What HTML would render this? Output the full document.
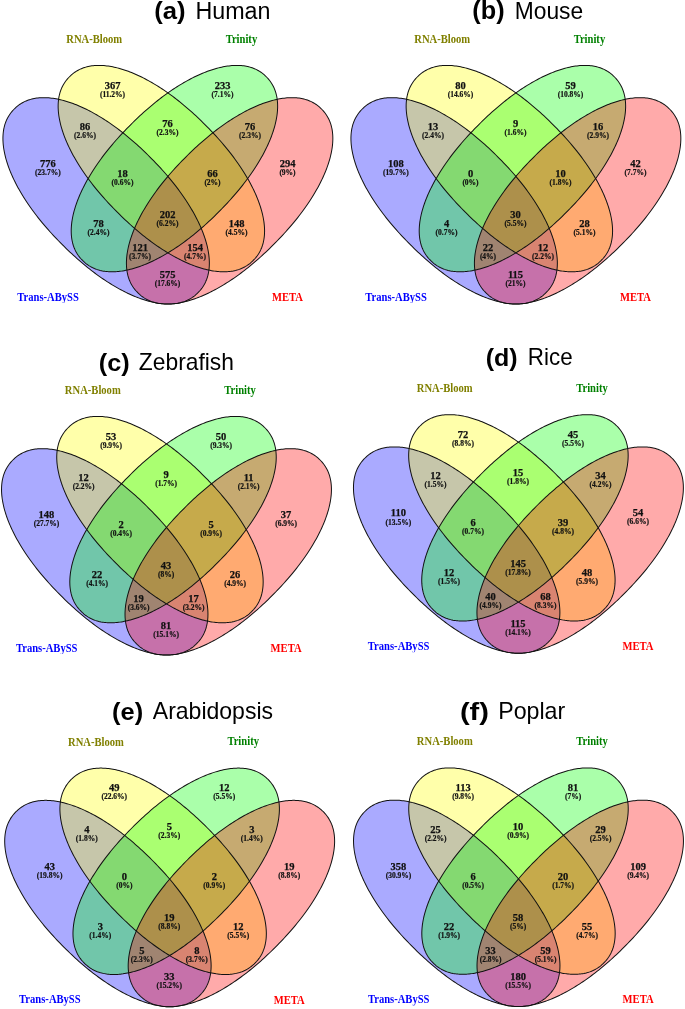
<!DOCTYPE html>
<html><head><meta charset="utf-8"><style>
html,body{margin:0;padding:0;background:#fff;}
svg{display:block}
.c{font-family:"Liberation Serif",serif;font-weight:bold;font-size:10.5px;text-anchor:middle;fill:#111;stroke:#111;stroke-width:0.25px}
.p{font-family:"Liberation Serif",serif;font-weight:bold;font-size:7.5px;text-anchor:middle;fill:#111;stroke:#111;stroke-width:0.2px}
.s{font-family:"Liberation Serif",serif;font-weight:bold;font-size:10.6px;text-anchor:middle}
.t{font-family:"Liberation Sans",sans-serif;font-size:24px;fill:#000}
</style></head><body>
<svg width="685" height="1009" viewBox="0 0 685 1009">
<defs><path id="se" d="M129.90 0.00 L129.88 1.36 L129.82 2.62 L129.73 3.84 L129.60 5.04 L129.43 6.21 L129.22 7.37 L128.98 8.52 L128.70 9.66 L128.39 10.78 L128.03 11.90 L127.64 13.00 L127.22 14.10 L126.75 15.19 L126.26 16.26 L125.72 17.33 L125.15 18.39 L124.54 19.44 L123.89 20.48 L123.21 21.52 L122.50 22.54 L121.75 23.55 L120.96 24.56 L120.14 25.55 L119.28 26.54 L118.39 27.51 L117.47 28.48 L116.51 29.44 L115.51 30.38 L114.49 31.31 L113.43 32.24 L112.33 33.15 L111.21 34.05 L110.05 34.95 L108.85 35.82 L107.63 36.69 L106.37 37.55 L105.09 38.39 L103.77 39.22 L102.42 40.04 L101.04 40.85 L99.63 41.65 L98.19 42.43 L96.72 43.20 L95.22 43.95 L93.70 44.69 L92.14 45.42 L90.56 46.14 L88.95 46.84 L87.31 47.52 L85.64 48.20 L83.95 48.86 L82.23 49.50 L80.49 50.13 L78.72 50.74 L76.92 51.34 L75.10 51.92 L73.26 52.49 L71.39 53.05 L69.50 53.58 L67.59 54.10 L65.65 54.61 L63.69 55.10 L61.71 55.57 L59.71 56.03 L57.68 56.47 L55.64 56.90 L53.57 57.31 L51.48 57.70 L49.38 58.07 L47.25 58.43 L45.11 58.77 L42.94 59.10 L40.76 59.41 L38.56 59.70 L36.33 59.97 L34.09 60.22 L31.83 60.46 L29.56 60.68 L27.26 60.89 L24.94 61.07 L22.61 61.24 L20.25 61.39 L17.87 61.53 L15.46 61.64 L13.02 61.74 L10.56 61.82 L8.05 61.88 L5.50 61.93 L2.86 61.95 L0.00 61.96 L-2.86 61.95 L-5.50 61.93 L-8.05 61.88 L-10.56 61.82 L-13.02 61.74 L-15.46 61.64 L-17.87 61.53 L-20.25 61.39 L-22.61 61.24 L-24.94 61.07 L-27.26 60.89 L-29.56 60.68 L-31.83 60.46 L-34.09 60.22 L-36.33 59.97 L-38.56 59.70 L-40.76 59.41 L-42.94 59.10 L-45.11 58.77 L-47.25 58.43 L-49.38 58.07 L-51.48 57.70 L-53.57 57.31 L-55.64 56.90 L-57.68 56.47 L-59.71 56.03 L-61.71 55.57 L-63.69 55.10 L-65.65 54.61 L-67.59 54.10 L-69.50 53.58 L-71.39 53.05 L-73.26 52.49 L-75.10 51.92 L-76.92 51.34 L-78.72 50.74 L-80.49 50.13 L-82.23 49.50 L-83.95 48.86 L-85.64 48.20 L-87.31 47.52 L-88.95 46.84 L-90.56 46.14 L-92.14 45.42 L-93.70 44.69 L-95.22 43.95 L-96.72 43.20 L-98.19 42.43 L-99.63 41.65 L-101.04 40.85 L-102.42 40.04 L-103.77 39.22 L-105.09 38.39 L-106.37 37.55 L-107.63 36.69 L-108.85 35.82 L-110.05 34.95 L-111.21 34.05 L-112.33 33.15 L-113.43 32.24 L-114.49 31.31 L-115.51 30.38 L-116.51 29.44 L-117.47 28.48 L-118.39 27.51 L-119.28 26.54 L-120.14 25.55 L-120.96 24.56 L-121.75 23.55 L-122.50 22.54 L-123.21 21.52 L-123.89 20.48 L-124.54 19.44 L-125.15 18.39 L-125.72 17.33 L-126.26 16.26 L-126.75 15.19 L-127.22 14.10 L-127.64 13.00 L-128.03 11.90 L-128.39 10.78 L-128.70 9.66 L-128.98 8.52 L-129.22 7.37 L-129.43 6.21 L-129.60 5.04 L-129.73 3.84 L-129.82 2.62 L-129.88 1.36 L-129.90 0.00 L-129.88 -1.36 L-129.82 -2.62 L-129.73 -3.84 L-129.60 -5.04 L-129.43 -6.21 L-129.22 -7.37 L-128.98 -8.52 L-128.70 -9.66 L-128.39 -10.78 L-128.03 -11.90 L-127.64 -13.00 L-127.22 -14.10 L-126.75 -15.19 L-126.26 -16.26 L-125.72 -17.33 L-125.15 -18.39 L-124.54 -19.44 L-123.89 -20.48 L-123.21 -21.52 L-122.50 -22.54 L-121.75 -23.55 L-120.96 -24.56 L-120.14 -25.55 L-119.28 -26.54 L-118.39 -27.51 L-117.47 -28.48 L-116.51 -29.44 L-115.51 -30.38 L-114.49 -31.31 L-113.43 -32.24 L-112.33 -33.15 L-111.21 -34.05 L-110.05 -34.95 L-108.85 -35.82 L-107.63 -36.69 L-106.37 -37.55 L-105.09 -38.39 L-103.77 -39.22 L-102.42 -40.04 L-101.04 -40.85 L-99.63 -41.65 L-98.19 -42.43 L-96.72 -43.20 L-95.22 -43.95 L-93.70 -44.69 L-92.14 -45.42 L-90.56 -46.14 L-88.95 -46.84 L-87.31 -47.52 L-85.64 -48.20 L-83.95 -48.86 L-82.23 -49.50 L-80.49 -50.13 L-78.72 -50.74 L-76.92 -51.34 L-75.10 -51.92 L-73.26 -52.49 L-71.39 -53.05 L-69.50 -53.58 L-67.59 -54.10 L-65.65 -54.61 L-63.69 -55.10 L-61.71 -55.57 L-59.71 -56.03 L-57.68 -56.47 L-55.64 -56.90 L-53.57 -57.31 L-51.48 -57.70 L-49.38 -58.07 L-47.25 -58.43 L-45.11 -58.77 L-42.94 -59.10 L-40.76 -59.41 L-38.56 -59.70 L-36.33 -59.97 L-34.09 -60.22 L-31.83 -60.46 L-29.56 -60.68 L-27.26 -60.89 L-24.94 -61.07 L-22.61 -61.24 L-20.25 -61.39 L-17.87 -61.53 L-15.46 -61.64 L-13.02 -61.74 L-10.56 -61.82 L-8.05 -61.88 L-5.50 -61.93 L-2.86 -61.95 L-0.00 -61.96 L2.86 -61.95 L5.50 -61.93 L8.05 -61.88 L10.56 -61.82 L13.02 -61.74 L15.46 -61.64 L17.87 -61.53 L20.25 -61.39 L22.61 -61.24 L24.94 -61.07 L27.26 -60.89 L29.56 -60.68 L31.83 -60.46 L34.09 -60.22 L36.33 -59.97 L38.56 -59.70 L40.76 -59.41 L42.94 -59.10 L45.11 -58.77 L47.25 -58.43 L49.38 -58.07 L51.48 -57.70 L53.57 -57.31 L55.64 -56.90 L57.68 -56.47 L59.71 -56.03 L61.71 -55.57 L63.69 -55.10 L65.65 -54.61 L67.59 -54.10 L69.50 -53.58 L71.39 -53.05 L73.26 -52.49 L75.10 -51.92 L76.92 -51.34 L78.72 -50.74 L80.49 -50.13 L82.23 -49.50 L83.95 -48.86 L85.64 -48.20 L87.31 -47.52 L88.95 -46.84 L90.56 -46.14 L92.14 -45.42 L93.70 -44.69 L95.22 -43.95 L96.72 -43.20 L98.19 -42.43 L99.63 -41.65 L101.04 -40.85 L102.42 -40.04 L103.77 -39.22 L105.09 -38.39 L106.37 -37.55 L107.63 -36.69 L108.85 -35.82 L110.05 -34.95 L111.21 -34.05 L112.33 -33.15 L113.43 -32.24 L114.49 -31.31 L115.51 -30.38 L116.51 -29.44 L117.47 -28.48 L118.39 -27.51 L119.28 -26.54 L120.14 -25.55 L120.96 -24.56 L121.75 -23.55 L122.50 -22.54 L123.21 -21.52 L123.89 -20.48 L124.54 -19.44 L125.15 -18.39 L125.72 -17.33 L126.26 -16.26 L126.75 -15.19 L127.22 -14.10 L127.64 -13.00 L128.03 -11.90 L128.39 -10.78 L128.70 -9.66 L128.98 -8.52 L129.22 -7.37 L129.43 -6.21 L129.60 -5.04 L129.73 -3.84 L129.82 -2.62 L129.88 -1.36Z"/></defs>
<rect width="685" height="1009" fill="#fff"/>
<g transform="translate(0,0)">
<use href="#se" transform="translate(106.143 200.848) rotate(44.993)" fill="#0000ff" fill-opacity="0.3333"/>
<use href="#se" transform="translate(161.354 168.602) rotate(44.993)" fill="#ffff00" fill-opacity="0.3333"/>
<use href="#se" transform="translate(174.419 168.602) rotate(-44.993)" fill="#00ff00" fill-opacity="0.3333"/>
<use href="#se" transform="translate(229.630 200.848) rotate(-44.993)" fill="#ff0000" fill-opacity="0.3333"/>
<use href="#se" transform="translate(106.143 200.848) rotate(44.993)" fill="none" stroke="#111" stroke-width="1.0"/>
<use href="#se" transform="translate(161.354 168.602) rotate(44.993)" fill="none" stroke="#111" stroke-width="1.0"/>
<use href="#se" transform="translate(174.419 168.602) rotate(-44.993)" fill="none" stroke="#111" stroke-width="1.0"/>
<use href="#se" transform="translate(229.630 200.848) rotate(-44.993)" fill="none" stroke="#111" stroke-width="1.0"/>
<g style="will-change:transform">
<text x="112.5" y="88.5" class="c">367</text>
<text transform="translate(112.50 96.70)" class="p">(11.2%)</text>
<text x="222.5" y="88.5" class="c">233</text>
<text transform="translate(222.50 96.70)" class="p">(7.1%)</text>
<text x="85" y="130.0" class="c">86</text>
<text transform="translate(85.00 138.20)" class="p">(2.6%)</text>
<text x="167.5" y="127.0" class="c">76</text>
<text transform="translate(167.50 135.20)" class="p">(2.3%)</text>
<text x="250" y="130.0" class="c">76</text>
<text transform="translate(250.00 138.20)" class="p">(2.3%)</text>
<text x="47.9" y="167.2" class="c">776</text>
<text transform="translate(47.90 175.40)" class="p">(23.7%)</text>
<text x="122.5" y="177.0" class="c">18</text>
<text transform="translate(122.50 185.20)" class="p">(0.6%)</text>
<text x="212.5" y="177.0" class="c">66</text>
<text transform="translate(212.50 185.20)" class="p">(2%)</text>
<text x="287.5" y="167.0" class="c">294</text>
<text transform="translate(287.50 175.20)" class="p">(9%)</text>
<text x="167.5" y="218.0" class="c">202</text>
<text transform="translate(167.50 226.20)" class="p">(6.2%)</text>
<text x="98.5" y="227.0" class="c">78</text>
<text transform="translate(98.50 235.20)" class="p">(2.4%)</text>
<text x="236.5" y="227.0" class="c">148</text>
<text transform="translate(236.50 235.20)" class="p">(4.5%)</text>
<text x="140" y="251.0" class="c">121</text>
<text transform="translate(140.00 259.20)" class="p">(3.7%)</text>
<text x="195" y="251.0" class="c">154</text>
<text transform="translate(195.00 259.20)" class="p">(4.7%)</text>
<text x="167.5" y="277.5" class="c">575</text>
<text transform="translate(167.50 285.70)" class="p">(17.6%)</text>
<text transform="translate(94.2 42.9) scale(1 1.1)" class="s" fill="#808000">RNA-Bloom</text>
<text transform="translate(241.4 42.7) scale(1 1.1)" class="s" fill="#008000">Trinity</text>
<text transform="translate(48.1 300.5) scale(1 1.1)" class="s" fill="#0000ff">Trans-ABySS</text>
<text transform="translate(287.5 300.8) scale(1 1.1)" class="s" fill="#ff0000">META</text>
</g>
</g>
<text style="will-change:transform" transform="translate(154.23,19.32) scale(1.0704,1.0350)" class="t" font-weight="bold">(a)</text>
<text style="will-change:transform" transform="translate(195.46,18.80) scale(0.9703,0.9750)" class="t" font-weight="normal">Human</text><g transform="translate(348,0)">
<use href="#se" transform="translate(106.143 200.848) rotate(44.993)" fill="#0000ff" fill-opacity="0.3333"/>
<use href="#se" transform="translate(161.354 168.602) rotate(44.993)" fill="#ffff00" fill-opacity="0.3333"/>
<use href="#se" transform="translate(174.419 168.602) rotate(-44.993)" fill="#00ff00" fill-opacity="0.3333"/>
<use href="#se" transform="translate(229.630 200.848) rotate(-44.993)" fill="#ff0000" fill-opacity="0.3333"/>
<use href="#se" transform="translate(106.143 200.848) rotate(44.993)" fill="none" stroke="#111" stroke-width="1.0"/>
<use href="#se" transform="translate(161.354 168.602) rotate(44.993)" fill="none" stroke="#111" stroke-width="1.0"/>
<use href="#se" transform="translate(174.419 168.602) rotate(-44.993)" fill="none" stroke="#111" stroke-width="1.0"/>
<use href="#se" transform="translate(229.630 200.848) rotate(-44.993)" fill="none" stroke="#111" stroke-width="1.0"/>
<g style="will-change:transform">
<text x="112.5" y="88.5" class="c">80</text>
<text transform="translate(112.50 96.70)" class="p">(14.6%)</text>
<text x="222.5" y="88.5" class="c">59</text>
<text transform="translate(222.50 96.70)" class="p">(10.8%)</text>
<text x="85" y="130.0" class="c">13</text>
<text transform="translate(85.00 138.20)" class="p">(2.4%)</text>
<text x="167.5" y="127.0" class="c">9</text>
<text transform="translate(167.50 135.20)" class="p">(1.6%)</text>
<text x="250" y="130.0" class="c">16</text>
<text transform="translate(250.00 138.20)" class="p">(2.9%)</text>
<text x="47.9" y="167.2" class="c">108</text>
<text transform="translate(47.90 175.40)" class="p">(19.7%)</text>
<text x="122.5" y="177.0" class="c">0</text>
<text transform="translate(122.50 185.20)" class="p">(0%)</text>
<text x="212.5" y="177.0" class="c">10</text>
<text transform="translate(212.50 185.20)" class="p">(1.8%)</text>
<text x="287.5" y="167.0" class="c">42</text>
<text transform="translate(287.50 175.20)" class="p">(7.7%)</text>
<text x="167.5" y="218.0" class="c">30</text>
<text transform="translate(167.50 226.20)" class="p">(5.5%)</text>
<text x="98.5" y="227.0" class="c">4</text>
<text transform="translate(98.50 235.20)" class="p">(0.7%)</text>
<text x="236.5" y="227.0" class="c">28</text>
<text transform="translate(236.50 235.20)" class="p">(5.1%)</text>
<text x="140" y="251.0" class="c">22</text>
<text transform="translate(140.00 259.20)" class="p">(4%)</text>
<text x="195" y="251.0" class="c">12</text>
<text transform="translate(195.00 259.20)" class="p">(2.2%)</text>
<text x="167.5" y="277.5" class="c">115</text>
<text transform="translate(167.50 285.70)" class="p">(21%)</text>
<text transform="translate(94.2 42.9) scale(1 1.1)" class="s" fill="#808000">RNA-Bloom</text>
<text transform="translate(241.4 42.7) scale(1 1.1)" class="s" fill="#008000">Trinity</text>
<text transform="translate(48.1 300.5) scale(1 1.1)" class="s" fill="#0000ff">Trans-ABySS</text>
<text transform="translate(287.5 300.8) scale(1 1.1)" class="s" fill="#ff0000">META</text>
</g>
</g>
<text style="will-change:transform" transform="translate(472.35,19.32) scale(1.0517,1.0350)" class="t" font-weight="bold">(b)</text>
<text style="will-change:transform" transform="translate(514.70,18.60) scale(0.9507,0.9750)" class="t" font-weight="normal">Mouse</text><g transform="translate(-1.4,351.0)">
<use href="#se" transform="translate(106.143 200.848) rotate(44.993)" fill="#0000ff" fill-opacity="0.3333"/>
<use href="#se" transform="translate(161.354 168.602) rotate(44.993)" fill="#ffff00" fill-opacity="0.3333"/>
<use href="#se" transform="translate(174.419 168.602) rotate(-44.993)" fill="#00ff00" fill-opacity="0.3333"/>
<use href="#se" transform="translate(229.630 200.848) rotate(-44.993)" fill="#ff0000" fill-opacity="0.3333"/>
<use href="#se" transform="translate(106.143 200.848) rotate(44.993)" fill="none" stroke="#111" stroke-width="1.0"/>
<use href="#se" transform="translate(161.354 168.602) rotate(44.993)" fill="none" stroke="#111" stroke-width="1.0"/>
<use href="#se" transform="translate(174.419 168.602) rotate(-44.993)" fill="none" stroke="#111" stroke-width="1.0"/>
<use href="#se" transform="translate(229.630 200.848) rotate(-44.993)" fill="none" stroke="#111" stroke-width="1.0"/>
<g style="will-change:transform">
<text x="112.5" y="88.5" class="c">53</text>
<text transform="translate(112.50 96.70)" class="p">(9.9%)</text>
<text x="222.5" y="88.5" class="c">50</text>
<text transform="translate(222.50 96.70)" class="p">(9.3%)</text>
<text x="85" y="130.0" class="c">12</text>
<text transform="translate(85.00 138.20)" class="p">(2.2%)</text>
<text x="167.5" y="127.0" class="c">9</text>
<text transform="translate(167.50 135.20)" class="p">(1.7%)</text>
<text x="250" y="130.0" class="c">11</text>
<text transform="translate(250.00 138.20)" class="p">(2.1%)</text>
<text x="47.9" y="167.2" class="c">148</text>
<text transform="translate(47.90 175.40)" class="p">(27.7%)</text>
<text x="122.5" y="177.0" class="c">2</text>
<text transform="translate(122.50 185.20)" class="p">(0.4%)</text>
<text x="212.5" y="177.0" class="c">5</text>
<text transform="translate(212.50 185.20)" class="p">(0.9%)</text>
<text x="287.5" y="167.0" class="c">37</text>
<text transform="translate(287.50 175.20)" class="p">(6.9%)</text>
<text x="167.5" y="218.0" class="c">43</text>
<text transform="translate(167.50 226.20)" class="p">(8%)</text>
<text x="98.5" y="227.0" class="c">22</text>
<text transform="translate(98.50 235.20)" class="p">(4.1%)</text>
<text x="236.5" y="227.0" class="c">26</text>
<text transform="translate(236.50 235.20)" class="p">(4.9%)</text>
<text x="140" y="251.0" class="c">19</text>
<text transform="translate(140.00 259.20)" class="p">(3.6%)</text>
<text x="195" y="251.0" class="c">17</text>
<text transform="translate(195.00 259.20)" class="p">(3.2%)</text>
<text x="167.5" y="277.5" class="c">81</text>
<text transform="translate(167.50 285.70)" class="p">(15.1%)</text>
<text transform="translate(94.2 42.9) scale(1 1.1)" class="s" fill="#808000">RNA-Bloom</text>
<text transform="translate(241.4 42.7) scale(1 1.1)" class="s" fill="#008000">Trinity</text>
<text transform="translate(48.1 300.5) scale(1 1.1)" class="s" fill="#0000ff">Trans-ABySS</text>
<text transform="translate(287.5 300.8) scale(1 1.1)" class="s" fill="#ff0000">META</text>
</g>
</g>
<text style="will-change:transform" transform="translate(98.74,370.62) scale(1.0556,1.0350)" class="t" font-weight="bold">(c)</text>
<text style="will-change:transform" transform="translate(138.85,369.70) scale(0.9510,0.9750)" class="t" font-weight="normal">Zebrafish</text><g transform="translate(350.53,349.23)">
<use href="#se" transform="translate(106.143 200.848) rotate(44.993)" fill="#0000ff" fill-opacity="0.3333"/>
<use href="#se" transform="translate(161.354 168.602) rotate(44.993)" fill="#ffff00" fill-opacity="0.3333"/>
<use href="#se" transform="translate(174.419 168.602) rotate(-44.993)" fill="#00ff00" fill-opacity="0.3333"/>
<use href="#se" transform="translate(229.630 200.848) rotate(-44.993)" fill="#ff0000" fill-opacity="0.3333"/>
<use href="#se" transform="translate(106.143 200.848) rotate(44.993)" fill="none" stroke="#111" stroke-width="1.0"/>
<use href="#se" transform="translate(161.354 168.602) rotate(44.993)" fill="none" stroke="#111" stroke-width="1.0"/>
<use href="#se" transform="translate(174.419 168.602) rotate(-44.993)" fill="none" stroke="#111" stroke-width="1.0"/>
<use href="#se" transform="translate(229.630 200.848) rotate(-44.993)" fill="none" stroke="#111" stroke-width="1.0"/>
<g style="will-change:transform">
<text x="112.5" y="88.5" class="c">72</text>
<text transform="translate(112.50 96.70)" class="p">(8.8%)</text>
<text x="222.5" y="88.5" class="c">45</text>
<text transform="translate(222.50 96.70)" class="p">(5.5%)</text>
<text x="85" y="130.0" class="c">12</text>
<text transform="translate(85.00 138.20)" class="p">(1.5%)</text>
<text x="167.5" y="127.0" class="c">15</text>
<text transform="translate(167.50 135.20)" class="p">(1.8%)</text>
<text x="250" y="130.0" class="c">34</text>
<text transform="translate(250.00 138.20)" class="p">(4.2%)</text>
<text x="47.9" y="167.2" class="c">110</text>
<text transform="translate(47.90 175.40)" class="p">(13.5%)</text>
<text x="122.5" y="177.0" class="c">6</text>
<text transform="translate(122.50 185.20)" class="p">(0.7%)</text>
<text x="212.5" y="177.0" class="c">39</text>
<text transform="translate(212.50 185.20)" class="p">(4.8%)</text>
<text x="287.5" y="167.0" class="c">54</text>
<text transform="translate(287.50 175.20)" class="p">(6.6%)</text>
<text x="167.5" y="218.0" class="c">145</text>
<text transform="translate(167.50 226.20)" class="p">(17.8%)</text>
<text x="98.5" y="227.0" class="c">12</text>
<text transform="translate(98.50 235.20)" class="p">(1.5%)</text>
<text x="236.5" y="227.0" class="c">48</text>
<text transform="translate(236.50 235.20)" class="p">(5.9%)</text>
<text x="140" y="251.0" class="c">40</text>
<text transform="translate(140.00 259.20)" class="p">(4.9%)</text>
<text x="195" y="251.0" class="c">68</text>
<text transform="translate(195.00 259.20)" class="p">(8.3%)</text>
<text x="167.5" y="277.5" class="c">115</text>
<text transform="translate(167.50 285.70)" class="p">(14.1%)</text>
<text transform="translate(94.2 42.9) scale(1 1.1)" class="s" fill="#808000">RNA-Bloom</text>
<text transform="translate(241.4 42.7) scale(1 1.1)" class="s" fill="#008000">Trinity</text>
<text transform="translate(48.1 300.5) scale(1 1.1)" class="s" fill="#0000ff">Trans-ABySS</text>
<text transform="translate(287.5 300.8) scale(1 1.1)" class="s" fill="#ff0000">META</text>
</g>
</g>
<text style="will-change:transform" transform="translate(485.76,365.93) scale(1.0414,1.0350)" class="t" font-weight="bold">(d)</text>
<text style="will-change:transform" transform="translate(527.83,365.00) scale(0.9333,0.9750)" class="t" font-weight="normal">Rice</text><g transform="translate(1.77,702.7)">
<use href="#se" transform="translate(106.143 200.848) rotate(44.993)" fill="#0000ff" fill-opacity="0.3333"/>
<use href="#se" transform="translate(161.354 168.602) rotate(44.993)" fill="#ffff00" fill-opacity="0.3333"/>
<use href="#se" transform="translate(174.419 168.602) rotate(-44.993)" fill="#00ff00" fill-opacity="0.3333"/>
<use href="#se" transform="translate(229.630 200.848) rotate(-44.993)" fill="#ff0000" fill-opacity="0.3333"/>
<use href="#se" transform="translate(106.143 200.848) rotate(44.993)" fill="none" stroke="#111" stroke-width="1.0"/>
<use href="#se" transform="translate(161.354 168.602) rotate(44.993)" fill="none" stroke="#111" stroke-width="1.0"/>
<use href="#se" transform="translate(174.419 168.602) rotate(-44.993)" fill="none" stroke="#111" stroke-width="1.0"/>
<use href="#se" transform="translate(229.630 200.848) rotate(-44.993)" fill="none" stroke="#111" stroke-width="1.0"/>
<g style="will-change:transform">
<text x="112.5" y="88.5" class="c">49</text>
<text transform="translate(112.50 96.70)" class="p">(22.6%)</text>
<text x="222.5" y="88.5" class="c">12</text>
<text transform="translate(222.50 96.70)" class="p">(5.5%)</text>
<text x="85" y="130.0" class="c">4</text>
<text transform="translate(85.00 138.20)" class="p">(1.8%)</text>
<text x="167.5" y="127.0" class="c">5</text>
<text transform="translate(167.50 135.20)" class="p">(2.3%)</text>
<text x="250" y="130.0" class="c">3</text>
<text transform="translate(250.00 138.20)" class="p">(1.4%)</text>
<text x="47.9" y="167.2" class="c">43</text>
<text transform="translate(47.90 175.40)" class="p">(19.8%)</text>
<text x="122.5" y="177.0" class="c">0</text>
<text transform="translate(122.50 185.20)" class="p">(0%)</text>
<text x="212.5" y="177.0" class="c">2</text>
<text transform="translate(212.50 185.20)" class="p">(0.9%)</text>
<text x="287.5" y="167.0" class="c">19</text>
<text transform="translate(287.50 175.20)" class="p">(8.8%)</text>
<text x="167.5" y="218.0" class="c">19</text>
<text transform="translate(167.50 226.20)" class="p">(8.8%)</text>
<text x="98.5" y="227.0" class="c">3</text>
<text transform="translate(98.50 235.20)" class="p">(1.4%)</text>
<text x="236.5" y="227.0" class="c">12</text>
<text transform="translate(236.50 235.20)" class="p">(5.5%)</text>
<text x="140" y="251.0" class="c">5</text>
<text transform="translate(140.00 259.20)" class="p">(2.3%)</text>
<text x="195" y="251.0" class="c">8</text>
<text transform="translate(195.00 259.20)" class="p">(3.7%)</text>
<text x="167.5" y="277.5" class="c">33</text>
<text transform="translate(167.50 285.70)" class="p">(15.2%)</text>
<text transform="translate(94.2 42.9) scale(1 1.1)" class="s" fill="#808000">RNA-Bloom</text>
<text transform="translate(241.4 42.7) scale(1 1.1)" class="s" fill="#008000">Trinity</text>
<text transform="translate(48.1 300.5) scale(1 1.1)" class="s" fill="#0000ff">Trans-ABySS</text>
<text transform="translate(287.5 300.8) scale(1 1.1)" class="s" fill="#ff0000">META</text>
</g>
</g>
<text style="will-change:transform" transform="translate(112.04,719.62) scale(1.0593,1.0350)" class="t" font-weight="bold">(e)</text>
<text style="will-change:transform" transform="translate(152.80,718.80) scale(0.9592,0.9750)" class="t" font-weight="normal">Arabidopsis</text><g transform="translate(350.6,702.5)">
<use href="#se" transform="translate(106.143 200.848) rotate(44.993)" fill="#0000ff" fill-opacity="0.3333"/>
<use href="#se" transform="translate(161.354 168.602) rotate(44.993)" fill="#ffff00" fill-opacity="0.3333"/>
<use href="#se" transform="translate(174.419 168.602) rotate(-44.993)" fill="#00ff00" fill-opacity="0.3333"/>
<use href="#se" transform="translate(229.630 200.848) rotate(-44.993)" fill="#ff0000" fill-opacity="0.3333"/>
<use href="#se" transform="translate(106.143 200.848) rotate(44.993)" fill="none" stroke="#111" stroke-width="1.0"/>
<use href="#se" transform="translate(161.354 168.602) rotate(44.993)" fill="none" stroke="#111" stroke-width="1.0"/>
<use href="#se" transform="translate(174.419 168.602) rotate(-44.993)" fill="none" stroke="#111" stroke-width="1.0"/>
<use href="#se" transform="translate(229.630 200.848) rotate(-44.993)" fill="none" stroke="#111" stroke-width="1.0"/>
<g style="will-change:transform">
<text x="112.5" y="88.5" class="c">113</text>
<text transform="translate(112.50 96.70)" class="p">(9.8%)</text>
<text x="222.5" y="88.5" class="c">81</text>
<text transform="translate(222.50 96.70)" class="p">(7%)</text>
<text x="85" y="130.0" class="c">25</text>
<text transform="translate(85.00 138.20)" class="p">(2.2%)</text>
<text x="167.5" y="127.0" class="c">10</text>
<text transform="translate(167.50 135.20)" class="p">(0.9%)</text>
<text x="250" y="130.0" class="c">29</text>
<text transform="translate(250.00 138.20)" class="p">(2.5%)</text>
<text x="47.9" y="167.2" class="c">358</text>
<text transform="translate(47.90 175.40)" class="p">(30.9%)</text>
<text x="122.5" y="177.0" class="c">6</text>
<text transform="translate(122.50 185.20)" class="p">(0.5%)</text>
<text x="212.5" y="177.0" class="c">20</text>
<text transform="translate(212.50 185.20)" class="p">(1.7%)</text>
<text x="287.5" y="167.0" class="c">109</text>
<text transform="translate(287.50 175.20)" class="p">(9.4%)</text>
<text x="167.5" y="218.0" class="c">58</text>
<text transform="translate(167.50 226.20)" class="p">(5%)</text>
<text x="98.5" y="227.0" class="c">22</text>
<text transform="translate(98.50 235.20)" class="p">(1.9%)</text>
<text x="236.5" y="227.0" class="c">55</text>
<text transform="translate(236.50 235.20)" class="p">(4.7%)</text>
<text x="140" y="251.0" class="c">33</text>
<text transform="translate(140.00 259.20)" class="p">(2.8%)</text>
<text x="195" y="251.0" class="c">59</text>
<text transform="translate(195.00 259.20)" class="p">(5.1%)</text>
<text x="167.5" y="277.5" class="c">180</text>
<text transform="translate(167.50 285.70)" class="p">(15.5%)</text>
<text transform="translate(94.2 42.9) scale(1 1.1)" class="s" fill="#808000">RNA-Bloom</text>
<text transform="translate(241.4 42.7) scale(1 1.1)" class="s" fill="#008000">Trinity</text>
<text transform="translate(48.1 300.5) scale(1 1.1)" class="s" fill="#0000ff">Trans-ABySS</text>
<text transform="translate(287.5 300.8) scale(1 1.1)" class="s" fill="#ff0000">META</text>
</g>
</g>
<text style="will-change:transform" transform="translate(459.89,719.62) scale(1.2136,1.0350)" class="t" font-weight="bold">(f)</text>
<text style="will-change:transform" transform="translate(498.17,718.60) scale(0.9672,0.9750)" class="t" font-weight="normal">Poplar</text>
</svg>
</body></html>
